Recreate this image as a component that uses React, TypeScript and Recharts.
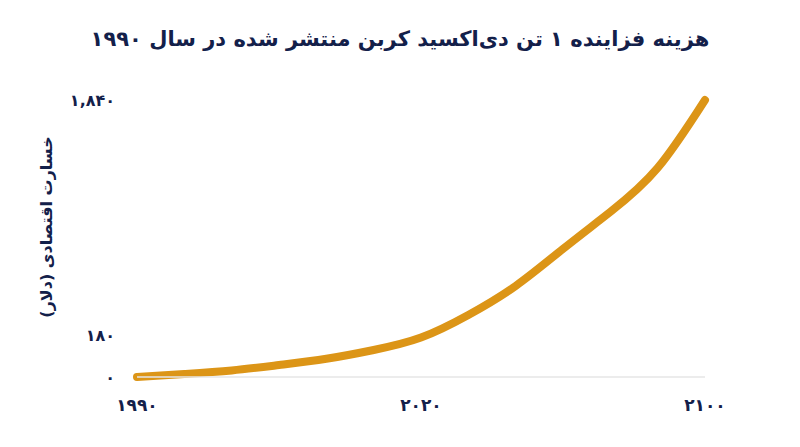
import React from "react";
import { LineChart, Line, XAxis, YAxis, Label } from "recharts";

const YEARS = [1990, 1995, 2000, 2005, 2010, 2015, 2020, 2033, 2047, 2060, 2073, 2087, 2100];
const COST = [0, 7, 18, 38, 64, 104, 166, 290, 466, 710, 971, 1300, 1840];
const Y_TICKS = [0, 180, 1840];

const TITLE = "هزینه فزاینده ۱ تن دی‌اکسید کربن منتشر شده در سال ۱۹۹۰";
const Y_LABEL = "خسارت اقتصادی (دلار)";

const NAVY = "#13204a";
const GOLD = "#dc9517";
const FONT = "'DejaVu Sans', sans-serif";
// the source axis is stretched near zero, so values go through a power scale
const EXP = 0.81;
const toAxis = (v: number) => Math.pow(v, EXP);

const fa = (s: string) => s.replace(/\d/g, (d) => "۰۱۲۳۴۵۶۷۸۹"[Number(d)]);
const fmtCost = (v: number) => {
  const raw = Math.round(Math.pow(v, 1 / EXP));
  const hit = Y_TICKS.find((t) => Math.abs(t - raw) < 2);
  return fa((hit ?? raw).toLocaleString("en-US"));
};

const data = YEARS.map((y, i) => ({ year: y, cost: COST[i] }));

export default function App() {
  return (
    <div style={{ position: "absolute", left: 0, top: 0, width: 800, height: 447, background: "#fff", fontFamily: FONT }}>
      <div
        dir="rtl"
        style={{ position: "absolute", top: 27, width: 800, textAlign: "center", fontSize: 21, fontWeight: 700, color: NAVY }}
      >
        {TITLE}
      </div>
      <LineChart width={800} height={447} data={data} margin={{ top: 100, right: 95, bottom: 30, left: 37 }}>
        <XAxis
          dataKey="year"
          interval={5}
          tickLine={false}
          tickSize={0}
          tickMargin={22}
          height={40}
          axisLine={{ stroke: "#e6e6e6", strokeWidth: 1.5 }}
          tickFormatter={(v) => fa(String(v))}
          tick={{ fill: NAVY, fontSize: 17, fontWeight: 700, fontFamily: FONT }}
        />
        <YAxis
          dataKey={(d: any) => toAxis(d.cost)}
          domain={[0, toAxis(1840)]}
          ticks={Y_TICKS.map(toAxis)}
          width={100}
          axisLine={false}
          tickLine={false}
          tickSize={0}
          tickMargin={22}
          tickFormatter={fmtCost}
          tick={{ fill: NAVY, fontSize: 16, fontWeight: 700, fontFamily: FONT }}
        >
          <Label
            content={() => (
              <text
                transform="translate(46,227) rotate(-90)"
                textAnchor="middle"
                dominantBaseline="central"
                fill={NAVY}
                fontSize={16}
                fontWeight={700}
                fontFamily={FONT}
                direction="rtl"
              >
                {Y_LABEL}
              </text>
            )}
          />
        </YAxis>
        <Line
          type="natural"
          dataKey={(d: any) => toAxis(d.cost)}
          stroke={GOLD}
          strokeWidth={8}
          strokeLinecap="round"
          dot={false}
          activeDot={false}
          isAnimationActive={false}
        />
      </LineChart>
    </div>
  );
}
